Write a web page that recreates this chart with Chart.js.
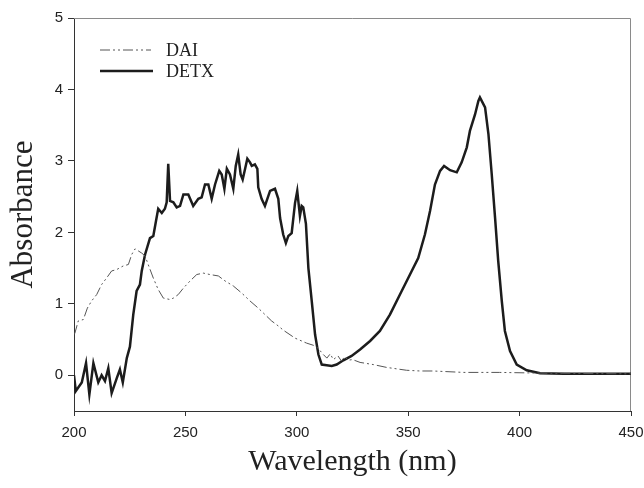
<!DOCTYPE html>
<html>
<head>
<meta charset="utf-8">
<script src="https://cdn.jsdelivr.net/npm/chart.js@4.4.1/dist/chart.umd.min.js"></script>
<style>
  html, body { margin: 0; padding: 0; background: #fff; }
  #spectrum { display: block; }
</style>
</head>
<body>
<canvas id="spectrum" width="644" height="488"></canvas>
<script>
// absorption spectra — DAI and DETX

const xTicks = [200, 250, 300, 350, 400, 450];
const yTicks = [0, 1, 2, 3, 4, 5];

const detxWl = [
  200, 200.8, 203.5, 205.4, 206.9, 208.7, 210.9, 212.4, 213.9, 215.4, 216.9, 219.2, 220.6, 221.9,
  223.7, 225.1, 226.6, 228.1, 229.6, 230.4, 231.9, 234.1, 235.6, 236.8, 237.8, 239.4, 240.8, 241.6,
  242.3, 243.1, 244.6, 246.1, 247.6, 249.1, 251.3, 252.8, 253.5, 255.8, 257.3, 258.8, 260.3, 261.8,
  263.3, 265.2, 266.3, 267.5, 268.6, 270.0, 271.5, 272.6, 273.7, 274.8, 275.7, 276.8, 277.8, 279.0,
  279.8, 281.2, 282.3, 282.7, 284.2, 285.7, 288.0, 290.2, 291.7, 292.5, 293.9, 295.1, 296.2, 297.7,
  299.2, 300.2, 301.4, 302.2, 302.9, 304.1, 305.2, 306.7, 308.2, 309.7, 311.2, 313.4, 315.7, 317.9,
  320.9, 324.6, 328.4, 332.9, 337.3, 341.8, 346.3, 350.8, 354.5, 357.5, 359.8, 362.0, 364.3, 366.1,
  368.8, 371.8, 374.0, 376.3, 377.7, 380.0, 381.5, 382.2, 384.5, 386.0, 387.5, 389.0, 390.4, 392.0,
  393.4, 395.7, 398.7, 403.2, 409.2, 420, 435, 450
];
const detxAbs = [
  0.0, -0.22, -0.10, 0.17, -0.27, 0.17, -0.10, 0.0, -0.08, 0.10, -0.25, -0.04, 0.08, -0.10,
  0.24, 0.40, 0.85, 1.18, 1.27, 1.46, 1.69, 1.92, 1.95, 2.16, 2.33, 2.27, 2.33, 2.42,
  2.96, 2.44, 2.42, 2.35, 2.37, 2.53, 2.53, 2.42, 2.37, 2.47, 2.49, 2.67, 2.67, 2.47,
  2.67, 2.86, 2.81, 2.61, 2.89, 2.81, 2.61, 2.93, 3.09, 2.81, 2.74, 2.89, 3.03, 2.98,
  2.93, 2.95, 2.89, 2.63, 2.47, 2.37, 2.58, 2.61, 2.47, 2.20, 1.97, 1.85, 1.95, 1.99,
  2.41, 2.58, 2.23, 2.37, 2.35, 2.12, 1.50, 1.04, 0.57, 0.29, 0.15, 0.14, 0.13, 0.15,
  0.21, 0.27, 0.36, 0.48, 0.62, 0.85, 1.13, 1.41, 1.64, 1.97, 2.30, 2.67, 2.86, 2.93,
  2.87, 2.84, 2.98, 3.19, 3.42, 3.65, 3.84, 3.89, 3.75, 3.38, 2.81, 2.20, 1.60, 1.04,
  0.62, 0.34, 0.15, 0.07, 0.03, 0.02, 0.02, 0.02
];

const daiWl = [
  200, 200.4, 201.9, 204.2, 206.0, 207.9, 210.2, 212.4, 214.6, 216.9, 219.2, 222.1, 224.4, 225.9,
  227.4, 228.9, 230.4, 231.9, 233.3, 235.6, 237.8, 240.1, 243.1, 244.6, 246.8, 249.1, 252.1, 255.1,
  258.0, 261.0, 264.8, 267.8, 271.5, 275.3, 279.0, 282.7, 285.7, 288.7, 291.7, 294.0, 299.2, 304.4,
  307.4, 309.5, 311.9, 313.5, 315.0, 316.4, 318.5, 320.0, 321.5, 323.0, 325.0, 328.4, 334.3, 340.3,
  349.3, 355.3, 361, 375, 391, 410, 450
];
const daiAbs = [
  0.57, 0.59, 0.76, 0.78, 0.94, 1.04, 1.13, 1.27, 1.36, 1.46, 1.48, 1.53, 1.55, 1.69,
  1.77, 1.74, 1.71, 1.67, 1.55, 1.36, 1.20, 1.08, 1.06, 1.08, 1.13, 1.22, 1.32, 1.41,
  1.43, 1.41, 1.39, 1.32, 1.25, 1.15, 1.04, 0.94, 0.85, 0.76, 0.69, 0.63, 0.52, 0.45,
  0.42, 0.38, 0.29, 0.24, 0.30, 0.22, 0.27, 0.20, 0.26, 0.21, 0.22, 0.18, 0.15, 0.11,
  0.07, 0.06, 0.06, 0.04, 0.04, 0.03, 0.02
];

const toPoints = (xs, ys) => xs.map((x, i) => ({ x: x, y: ys[i] }));

const DAI_DASH = [10, 3, 2, 3, 2, 3];
const serif = '"Liberation Serif", "Times New Roman", serif';
const sans = '"Liberation Sans", Arial, sans-serif';

// рамка: верх и правая сторона
const framePlugin = {
  id: 'frame',
  beforeDatasetsDraw(chart) {
    const { ctx, chartArea: a } = chart;
    ctx.save();
    ctx.strokeStyle = '#8a8a8a';
    ctx.lineWidth = 1;
    ctx.beginPath();
    ctx.moveTo(a.left, a.top + 0.5);
    ctx.lineTo(a.right - 0.5, a.top + 0.5);
    ctx.lineTo(a.right - 0.5, a.bottom);
    ctx.stroke();
    ctx.restore();
  },
};

// легенда внутри графика, слева сверху
const insideLegend = {
  id: 'insideLegend',
  afterDatasetsDraw(chart) {
    const { ctx, chartArea: a } = chart;
    const rows = [
      { ds: chart.data.datasets[0], y: a.top + 32, x1: a.left + 26, x2: a.left + 77 },
      { ds: chart.data.datasets[1], y: a.top + 53, x1: a.left + 26, x2: a.left + 79 },
    ];
    ctx.save();
    rows.forEach(r => {
      ctx.strokeStyle = r.ds.borderColor;
      ctx.lineWidth = r.ds.borderWidth;
      ctx.setLineDash(r.ds.borderDash || []);
      ctx.beginPath();
      ctx.moveTo(r.x1, r.y);
      ctx.lineTo(r.x2, r.y);
      ctx.stroke();
      ctx.setLineDash([]);
      ctx.fillStyle = '#222';
      ctx.font = '18px ' + serif;
      ctx.textBaseline = 'middle';
      ctx.fillText(r.ds.label, a.left + 92, r.y + 1);
    });
    ctx.restore();
  },
};

new Chart(document.getElementById('spectrum'), {
  type: 'line',
  data: {
    datasets: [
      {
        label: 'DAI',
        data: toPoints(daiWl, daiAbs),
        borderColor: '#555',
        borderWidth: 1,
        borderDash: DAI_DASH,
        pointRadius: 0,
        tension: 0,
        fill: false,
      },
      {
        label: 'DETX',
        data: toPoints(detxWl, detxAbs),
        borderColor: '#1c1c1c',
        borderWidth: 2.5,
        pointRadius: 0,
        tension: 0,
        fill: false,
      },
    ],
  },
  options: {
    responsive: false,
    animation: false,
    layout: { padding: { top: 18, right: 13, left: 0, bottom: 0 } },
    plugins: {
      legend: { display: false },
      tooltip: { enabled: false },
    },
    scales: {
      x: {
        type: 'linear',
        min: 200,
        max: 450,
        afterFit: s => { s.height = 77; s.paddingLeft = 0; s.paddingRight = 0; },
        afterBuildTicks: s => { s.ticks = xTicks.map(v => ({ value: v })); },
        grid: { display: true, drawOnChartArea: false, tickLength: 5, color: '#333' },
        border: { display: true, color: '#333', width: 1 },
        ticks: { color: '#222', font: { family: sans, size: 15 }, padding: 8, maxRotation: 0 },
        title: {
          display: true,
          text: 'Wavelength (nm)',
          color: '#222',
          font: { family: serif, size: 30 },
          padding: { top: 0, bottom: 8 },
        },
      },
      y: {
        min: -0.5,
        max: 5,
        afterFit: s => { s.width = 74; },
        afterBuildTicks: s => { s.ticks = yTicks.map(v => ({ value: v })); },
        grid: { display: true, drawOnChartArea: false, tickLength: 6, color: '#333' },
        border: { display: true, color: '#333', width: 1 },
        ticks: { color: '#222', font: { family: sans, size: 15 }, padding: 5 },
        title: {
          display: true,
          text: 'Absorbance',
          color: '#222',
          font: { family: serif, size: 31 },
          padding: { top: 5, bottom: 0 },
        },
      },
    },
  },
  plugins: [framePlugin, insideLegend],
});
</script>
</body>
</html>
